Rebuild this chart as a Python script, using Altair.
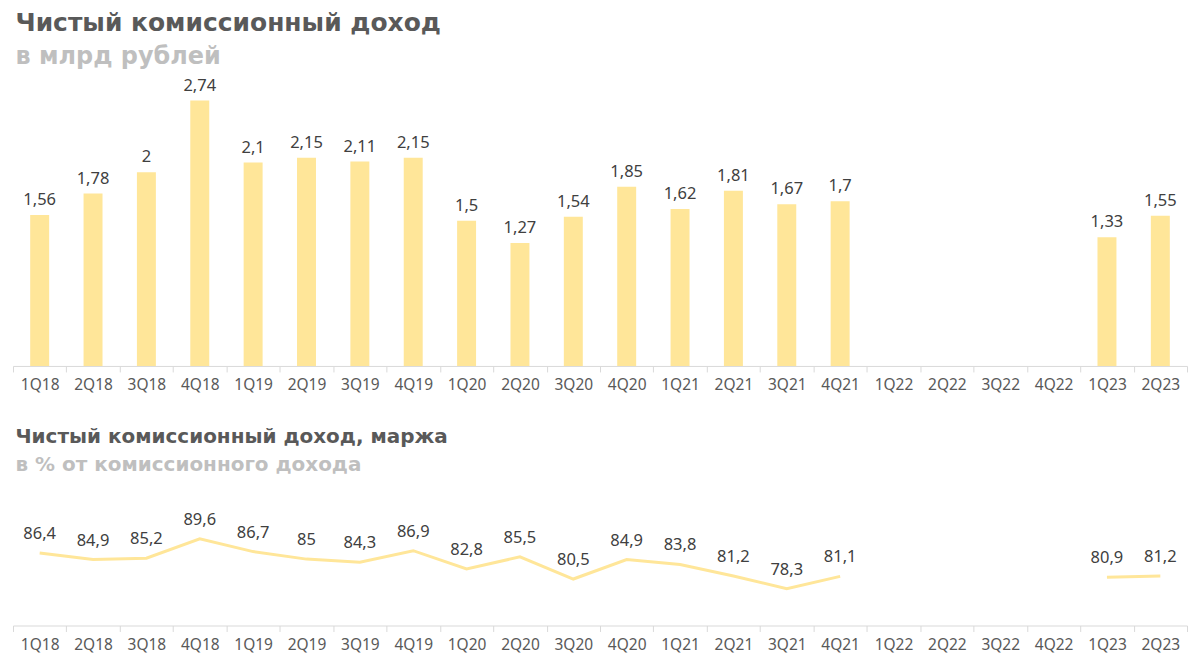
import altair as alt
import pandas as pd

quarters = ["1Q18", "2Q18", "3Q18", "4Q18", "1Q19", "2Q19", "3Q19", "4Q19",
            "1Q20", "2Q20", "3Q20", "4Q20", "1Q21", "2Q21", "3Q21", "4Q21",
            "1Q22", "2Q22", "3Q22", "4Q22", "1Q23", "2Q23"]
income = [1.56, 1.78, 2, 2.74, 2.1, 2.15, 2.11, 2.15,
          1.5, 1.27, 1.54, 1.85, 1.62, 1.81, 1.67, 1.7,
          None, None, None, None, 1.33, 1.55]
margin = [86.4, 84.9, 85.2, 89.6, 86.7, 85, 84.3, 86.9,
          82.8, 85.5, 80.5, 84.9, 83.8, 81.2, 78.3, 81.1,
          None, None, None, None, 80.9, 81.2]


def fmt(v):
    return None if v is None else f"{v:g}".replace(".", ",")


# segment id: a new segment starts after each gap
seg, s, prev_none = [], 0, False
for v in margin:
    if v is None:
        prev_none = True
    elif prev_none:
        s += 1
        prev_none = False
    seg.append(s)

df = pd.DataFrame({
    "q": quarters,
    "income": income,
    "income_lbl": [fmt(v) for v in income],
    "margin": margin,
    "margin_lbl": [fmt(v) for v in margin],
    "seg": seg,
})

GOLD = "#FFE699"
W = 1176

x_scale = alt.Scale(domain=quarters, paddingInner=0, paddingOuter=0)
x_enc = alt.X("q:N", sort=quarters, title=None, scale=x_scale,
              axis=alt.Axis(labelAngle=0, domainColor="#D9D9D9", tickColor="#D9D9D9",
                            tickBand="extent", tickSize=6, labelFont="Noto Sans",
                            labelFontSize=15.5, labelColor="#595959", labelPadding=6,
                            domainWidth=1))
x_plain = alt.X("q:N", sort=quarters, scale=x_scale)

base1 = alt.Chart(df).transform_filter("datum.income != null")
bars = base1.mark_bar(color=GOLD, size=19).encode(
    x=x_enc,
    y=alt.Y("income:Q", scale=alt.Scale(domain=[0, 3]), axis=None),
)
bar_txt = base1.mark_text(dy=-15, font="Noto Sans", fontSize=16.5, color="#404040").encode(
    x=x_plain,
    y=alt.Y("income:Q"),
    text="income_lbl:N",
)
top = (bars + bar_txt).properties(
    width=W, height=291,
    title=alt.TitleParams(
        text="Чистый комиссионный доход", subtitle="в млрд рублей",
        anchor="start", font="DejaVu Sans", fontSize=25, fontWeight="bold", color="#595959",
        subtitleFont="DejaVu Sans", subtitleFontSize=24, subtitleFontWeight="bold",
        subtitleColor="#BFBFBF", subtitlePadding=10, offset=6, dx=3),
)

base2 = alt.Chart(df).transform_filter("datum.margin != null")
line = base2.mark_line(color=GOLD, strokeWidth=3).encode(
    x=x_enc,
    y=alt.Y("margin:Q", scale=alt.Scale(domain=[70, 100]), axis=None),
    detail="seg:N",
)
line_txt = base2.mark_text(dy=-19, font="Noto Sans", fontSize=16.5, color="#404040").encode(
    x=x_plain,
    y=alt.Y("margin:Q"),
    text="margin_lbl:N",
)
bottom = (line + line_txt).properties(
    width=W, height=133,
    title=alt.TitleParams(
        text="Чистый комиссионный доход, маржа", subtitle="в % от комиссионного дохода",
        anchor="start", font="DejaVu Sans", fontSize=20, fontWeight="bold", color="#595959",
        subtitleFont="DejaVu Sans", subtitleFontSize=20, subtitleFontWeight="bold",
        subtitleColor="#BFBFBF", subtitlePadding=8, offset=18, dx=3),
)

chart = alt.vconcat(top, bottom, spacing=33).properties(
    padding={"left": 4, "right": 4, "top": 2, "bottom": 0},
    background="white",
).configure_view(strokeWidth=0, stroke=None)

chart.save("out.html", embed_options={"renderer": "svg", "actions": False})
